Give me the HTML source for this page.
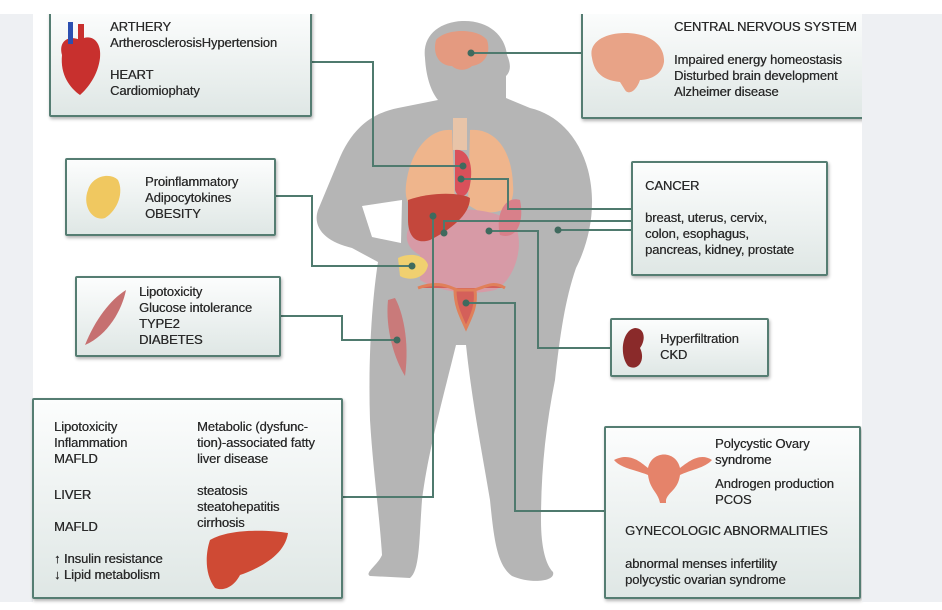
<!DOCTYPE html>
<html><head><meta charset="utf-8"><style>
*{margin:0;padding:0;box-sizing:border-box}
body{width:942px;height:610px;position:relative;background:#fff;overflow:hidden;font-family:"Liberation Sans",sans-serif;color:#2a2a2a}
.g{position:absolute;background:#eef0f3}
.box{position:absolute;border:2px solid #557d72;border-radius:2px;background:linear-gradient(#fcfdfd,#dfe7e5);box-shadow:1px 2px 3px rgba(0,0,0,.3)}
.t{position:absolute;font-size:13px;line-height:16px;white-space:nowrap;letter-spacing:-0.1px;text-shadow:0.3px 0 0 #2a2a2a}
svg{position:absolute;left:0;top:0}
</style></head><body>
<div class="g" style="left:0;top:14px;width:33px;height:588px"></div>

<svg width="942" height="610">
<g fill="#b5b5b5">
<path d="M425,58 C422,35 440,22 462,21 C488,20 505,35 507,55 C510,62 512,70 506,76 L506,98 L530,108 C560,115 580,140 588,170 C597,205 590,240 576,268 C565,300 560,335 555,380 C546,425 541,470 541,520 C541,548 546,565 553,572 C556,582 530,584 512,576 C497,565 494,540 490,500 C482,452 472,402 466,345 L456,345 C442,402 428,452 422,500 C419,540 420,570 410,578 L370,576 C364,573 378,565 382,555 C380,520 373,470 370,420 C368,360 372,300 378,262 L352,248 C326,242 312,228 318,210 L338,162 C350,132 368,114 398,108 L438,100 C430,90 426,75 425,58 Z"/>
</g>
<polygon points="362,206 402,200 401,243 372,237" fill="#fff"/>
<rect x="453" y="118" width="14" height="32" fill="#e8c4a8"/>
<path d="M452,130 C430,128 410,150 406,185 C404,205 412,215 440,212 L455,205 Z" fill="#efb58c"/>
<path d="M470,130 C495,128 512,150 513,185 C515,205 505,215 480,212 L468,205 Z" fill="#efb58c"/>
<path d="M455,150 C468,148 474,165 470,185 C468,198 458,200 455,190 Z" fill="#d9505a"/>
<path d="M420,255 C400,245 405,225 420,215 C450,205 500,208 515,225 C525,245 515,280 495,290 C470,296 440,292 420,280 Z" fill="#d79aa6"/>
<path d="M408,200 C430,192 460,192 470,198 C470,215 450,230 430,240 C415,245 408,235 408,220 Z" fill="#c4473c"/>
<path d="M520,200 C505,195 495,215 500,235 C515,240 525,225 520,200 Z" fill="#d8808a"/>
<path d="M398,258 C410,252 425,255 428,265 C426,278 410,282 400,276 Z" fill="#f0d070"/>
<path d="M418,288 C440,280 450,288 458,290 L474,290 C484,288 492,280 505,288 M455,290 C455,305 460,315 466,328 C472,315 477,305 475,290 Z" fill="#d4605a" stroke="#e0805a" stroke-width="3"/>
<path d="M395,298 C402,310 410,340 405,376 C395,360 385,330 388,300 Z" fill="#c97a7a"/>
<path d="M436,40 C446,28 478,28 487,40 C491,52 486,64 472,66 C465,72 456,70 452,66 C440,66 432,55 436,40 Z" fill="#e49a80"/>
<g fill="none" stroke="#4f7a6e" stroke-width="2">
<polyline points="311,62 373,62 373,166 463,166"/>
<polyline points="471,53 581,53"/>
<polyline points="461,179 508,179 508,209 631,209"/>
<polyline points="444,233 444,221 631,221"/>
<polyline points="558,230 631,230"/>
<polyline points="489,231 538,231 538,348 610,348"/>
<polyline points="433,216 433,497 342,497"/>
<polyline points="275,196 312,196 312,266 412,266"/>
<polyline points="280,316 342,316 342,340 397,340"/>
<polyline points="466,303 515,303 515,511 604,511"/>
</g>
<g fill="#3f6a5e">
<circle cx="463" cy="166" r="3.5"/><circle cx="471" cy="53" r="3.5"/><circle cx="461" cy="179" r="3.5"/>
<circle cx="444" cy="233" r="3.5"/><circle cx="558" cy="230" r="3.5"/><circle cx="489" cy="231" r="3.5"/>
<circle cx="433" cy="216" r="3.5"/><circle cx="412" cy="266" r="3.5"/><circle cx="397" cy="340" r="3.5"/><circle cx="466" cy="303" r="3.5"/>
</g>
</svg>

<div class="box" style="left:49px;top:8px;width:263px;height:109px"></div>
<div class="box" style="left:581px;top:8px;width:290px;height:111px"></div>
<div class="box" style="left:65px;top:158px;width:211px;height:78px"></div>
<div class="box" style="left:75px;top:276px;width:206px;height:81px"></div>
<div class="box" style="left:32px;top:398px;width:311px;height:201px"></div>
<div class="box" style="left:631px;top:161px;width:197px;height:115px"></div>
<div class="box" style="left:610px;top:318px;width:159px;height:59px"></div>
<div class="box" style="left:604px;top:426px;width:257px;height:173px"></div>
<div class="g" style="left:862px;top:14px;width:80px;height:588px"></div>
<div style="position:absolute;left:0;top:0;width:942px;height:14px;background:#fff"></div>

<svg width="942" height="610">
<path d="M62,55 C58,40 70,35 80,40 C90,33 102,40 100,58 C98,75 88,88 80,95 C70,88 60,75 62,55 Z" fill="#c8302e"/>
<rect x="68" y="22" width="5" height="22" fill="#2c4fb0"/><rect x="78" y="24" width="6" height="18" fill="#c8302e"/>
<path d="M592,58 C588,42 605,33 625,33 C650,33 665,45 664,62 C662,76 648,80 640,80 C636,92 628,95 625,90 L620,82 C600,80 594,70 592,58 Z" fill="#e8a387"/>
<path d="M88,190 C92,176 110,172 118,180 C124,192 118,210 105,218 C92,222 82,205 88,190 Z" fill="#f0c860"/>
<path d="M85,345 C95,320 110,300 126,290 C122,310 108,335 85,345 Z" fill="#c67070"/>
<path d="M210,540 C230,528 270,530 288,533 C285,555 260,568 240,575 C235,585 225,592 215,588 C205,575 205,555 210,540 Z" fill="#cf4a34"/>
<path d="M635,328 C622,330 619,355 628,366 C638,372 646,360 640,348 C646,340 645,328 635,328 Z" fill="#8a2a2a"/>
<path d="M614,460 C630,452 640,462 648,468 C652,450 676,450 680,468 C688,462 700,452 712,460 C705,468 690,470 680,475 C678,490 668,492 666,500 L666,503 L660,503 C658,492 650,490 648,475 C636,470 620,468 614,460 Z" fill="#e5836a"/>
</svg>

<div class="t" style="left:110px;top:19px">ARTHERY<br>ArtherosclerosisHypertension</div>
<div class="t" style="left:110px;top:67px">HEART<br>Cardiomiophaty</div>
<div class="t" style="left:674px;top:19px">CENTRAL NERVOUS SYSTEM</div>
<div class="t" style="left:674px;top:52px">Impaired energy homeostasis<br>Disturbed brain development<br>Alzheimer disease</div>
<div class="t" style="left:145px;top:174px">Proinflammatory<br>Adipocytokines<br>OBESITY</div>
<div class="t" style="left:139px;top:284px">Lipotoxicity<br>Glucose intolerance<br>TYPE2<br>DIABETES</div>
<div class="t" style="left:54px;top:419px">Lipotoxicity<br>Inflammation<br>MAFLD</div>
<div class="t" style="left:54px;top:487px">LIVER</div>
<div class="t" style="left:54px;top:519px">MAFLD</div>
<div class="t" style="left:54px;top:551px">↑ Insulin resistance<br>↓ Lipid metabolism</div>
<div class="t" style="left:197px;top:419px">Metabolic (dysfunc-<br>tion)-associated fatty<br>liver disease</div>
<div class="t" style="left:197px;top:483px">steatosis<br>steatohepatitis<br>cirrhosis</div>
<div class="t" style="left:645px;top:178px">CANCER</div>
<div class="t" style="left:645px;top:210px">breast, uterus, cervix,<br>colon, esophagus,<br>pancreas, kidney, prostate</div>
<div class="t" style="left:660px;top:331px">Hyperfiltration<br>CKD</div>
<div class="t" style="left:715px;top:436px">Polycystic Ovary<br>syndrome</div>
<div class="t" style="left:715px;top:476px">Androgen production<br>PCOS</div>
<div class="t" style="left:625px;top:523px">GYNECOLOGIC ABNORMALITIES</div>
<div class="t" style="left:625px;top:556px">abnormal menses infertility<br>polycystic ovarian syndrome</div>
</body></html>
